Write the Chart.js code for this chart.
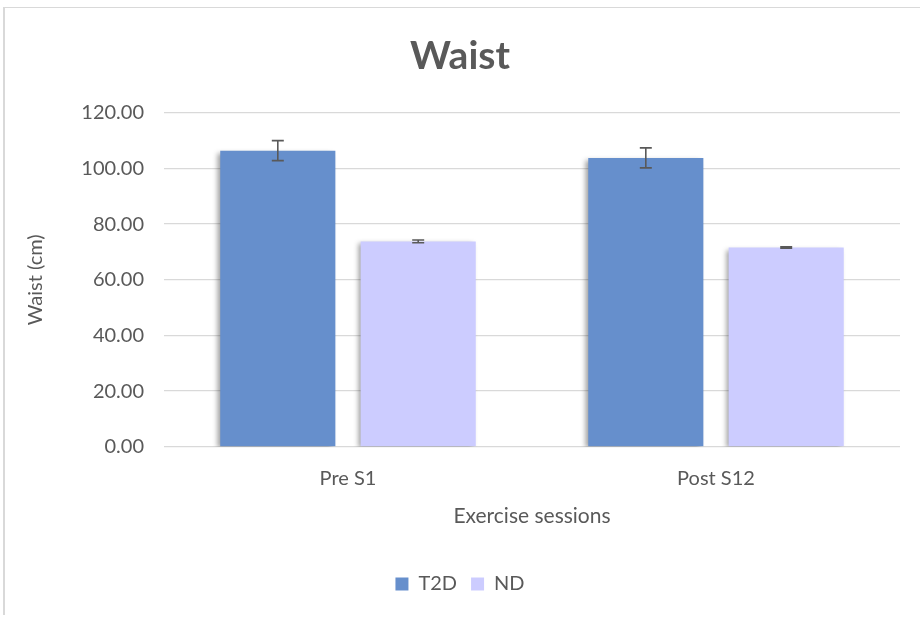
<!DOCTYPE html>
<html>
<head>
<meta charset="utf-8">
<script src="https://cdn.jsdelivr.net/npm/chart.js@4.4.1/dist/chart.umd.min.js"></script>
<style>
  html, body { margin: 0; padding: 0; background: #fff; }
  #wrap { position: relative; width: 920px; height: 617px; overflow: hidden; }
  #frame { position: absolute; left: 3px; top: 7px; width: 940px; height: 608px;
           border-top: 1px solid #d9d9d9; border-left: 2px solid #d9d9d9; box-sizing: border-box; }
  canvas { position: absolute; left: 0; top: 0; }
</style>
</head>
<body>
<div id="wrap">
  <div id="frame"></div>
  <canvas id="c" width="920" height="617"></canvas>
</div>
<script>
const categories = ["Pre S1", "Post S12"];
const seriesNames = ["T2D", "ND"];
const t2dValues = [106.4, 103.8];
const ndValues = [73.8, 71.6];
const t2dErrors = [3.6, 3.6];
const ndErrors = [0.5, 0.25];
const yTicks = [0, 20, 40, 60, 80, 100, 120];

const FONT = "Lato, 'Open Sans', sans-serif";
const TEXT = "#595959";
const FS = 20;

const shadowPlugin = {
  id: 'barShadow',
  beforeDatasetsDraw(chart) {
    const ctx = chart.ctx;
    ctx.save();
    ctx.shadowColor = 'rgba(0,0,0,0.38)';
    ctx.shadowBlur = 5;
    ctx.shadowOffsetX = -3;
    ctx.shadowOffsetY = 2;
  },
  afterDatasetsDraw(chart) {
    chart.ctx.restore();
  }
};

const errorBarPlugin = {
  id: 'errorBars',
  afterDatasetsDraw(chart) {
    const ctx = chart.ctx;
    const y = chart.scales.y;
    ctx.save();
    ctx.strokeStyle = '#595959';
    ctx.lineWidth = 1.6;
    chart.data.datasets.forEach((ds, di) => {
      const meta = chart.getDatasetMeta(di);
      meta.data.forEach((bar, i) => {
        const v = ds.data[i];
        const e = ds.errors[i];
        const yt = y.getPixelForValue(v + e);
        const yb = y.getPixelForValue(v - e);
        const x = bar.x;
        const cap = 6;
        ctx.beginPath();
        ctx.moveTo(x, yt); ctx.lineTo(x, yb);
        ctx.moveTo(x - cap, yt); ctx.lineTo(x + cap, yt);
        ctx.moveTo(x - cap, yb); ctx.lineTo(x + cap, yb);
        ctx.stroke();
      });
    });
    ctx.restore();
  }
};

new Chart(document.getElementById('c'), {
  type: 'bar',
  data: {
    labels: categories,
    datasets: [
      { label: seriesNames[0], data: t2dValues, errors: t2dErrors, backgroundColor: '#668fcc',
        barPercentage: 0.82, categoryPercentage: 0.763 },
      { label: seriesNames[1], data: ndValues, errors: ndErrors, backgroundColor: '#ccccff',
        barPercentage: 0.82, categoryPercentage: 0.763 }
    ]
  },
  options: {
    responsive: false,
    animation: false,
    layout: { padding: { left: 20, right: 20, top: 0, bottom: 13 } },
    plugins: {
      title: { display: true, text: 'Waist', color: TEXT,
               font: { family: FONT, size: 39, weight: 'bold' },
               padding: { top: 33, bottom: 33 } },
      legend: { position: 'bottom', labels: { color: TEXT, font: { family: FONT, size: FS },
               boxWidth: 13, boxHeight: 13, padding: 14 } },
      tooltip: { enabled: false }
    },
    scales: {
      y: {
        min: 0, max: 120,
        afterBuildTicks(scale) { scale.ticks = yTicks.map(v => ({ value: v })); },
        afterFit(scale) { scale.width = 144; },
        ticks: { color: TEXT, font: { family: FONT, size: FS }, padding: 20,
                 callback: v => Number(v).toFixed(2) },
        grid: { color: '#d9d9d9', lineWidth: 1.3, drawTicks: false },
        border: { display: false },
        title: { display: true, text: 'Waist (cm)', color: TEXT, font: { family: FONT, size: FS } }
      },
      x: {
        ticks: { color: TEXT, font: { family: FONT, size: FS }, padding: 20 },
        grid: { display: false, drawTicks: false },
        border: { display: false },
        title: { display: true, text: 'Exercise sessions', color: TEXT, font: { family: FONT, size: 21 },
                 padding: { top: -7, bottom: 31 } }
      }
    }
  },
  plugins: [shadowPlugin, errorBarPlugin]
});
</script>
</body>
</html>
